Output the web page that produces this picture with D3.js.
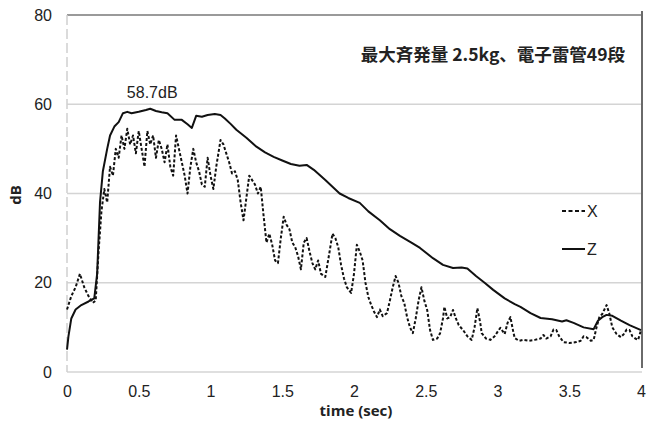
<!DOCTYPE html>
<html lang="ja">
<head>
<meta charset="UTF-8">
<script src="https://d3js.org/d3.v7.min.js"></script>
<style>
  body { margin: 0; background: #fff; }
  svg text { font-family: "Liberation Sans", Arial, sans-serif; fill: #222; }
</style>
</head>
<body>
<svg id="chart" width="654" height="422"></svg>
<script>
// ---- data ----
var xTicks = [0, 0.5, 1, 1.5, 2, 2.5, 3, 3.5, 4];
var xTickLabels = ["0", "0.5", "1", "1.5", "2", "2.5", "3", "3.5", "4"];
var yTicks = [0, 20, 40, 60, 80];
var seriesNames = ["X", "Z"];
var titleText = "最大斉発量  2.5kg、電子雷管49段";
var peakLabel = "58.7dB";
var peakAt = [0.58, 58.7];

// X component (dashed)
var timeX = [0,0.03,0.06,0.09,0.12,0.15,0.18,0.2,0.22,0.24,0.26,0.28,0.3,0.32,0.34,0.36,0.38,0.4,0.42,0.44,0.46,0.48,0.5,0.52,0.54,0.56,0.58,0.6,0.62,0.64,0.66,0.68,0.7,0.72,0.74,0.76,0.78,0.8,0.82,0.84,0.86,0.88,0.9,0.92,0.94,0.96,0.98,1,1.02,1.04,1.06,1.07,1.09,1.11,1.13,1.15,1.17,1.19,1.21,1.23,1.25,1.27,1.29,1.31,1.33,1.35,1.37,1.39,1.41,1.43,1.45,1.47,1.49,1.51,1.53,1.55,1.57,1.59,1.61,1.63,1.65,1.67,1.69,1.71,1.73,1.75,1.77,1.8,1.83,1.85,1.87,1.89,1.91,1.93,1.95,1.98,2,2.02,2.04,2.06,2.08,2.1,2.12,2.14,2.16,2.18,2.2,2.23,2.25,2.27,2.29,2.31,2.33,2.35,2.37,2.39,2.41,2.43,2.45,2.47,2.49,2.51,2.53,2.55,2.58,2.6,2.62,2.63,2.65,2.67,2.69,2.71,2.73,2.76,2.79,2.82,2.84,2.86,2.88,2.89,2.92,2.95,2.98,3,3.02,3.05,3.07,3.09,3.11,3.12,3.15,3.18,3.22,3.26,3.3,3.32,3.34,3.37,3.39,3.41,3.43,3.46,3.5,3.55,3.58,3.6,3.62,3.65,3.67,3.69,3.71,3.73,3.76,3.78,3.8,3.83,3.86,3.88,3.9,3.92,3.94,3.96,3.98,4];
var dbX = [14,17,19,22,19,17,15.5,16,27,36,41,38,46,44,50,48,53,50,54.5,51,53,49,54,50,46,54,51,53,48,52,50,47,51,46,44,53,50,47,44,40,46,50,47,45,42,41.5,48,44,41,46,50,52,51,49,47,44.5,45,43,38,34,39,44,43,42,40,41.5,35,29,31,28.5,25,24.4,30,34.8,33,32,29,28,26,23,29,30,27,24.4,23,25,22,21.3,27,31,30,28,24,21,19,17.7,22,28.5,27,25,20,16.8,15,13.5,12.3,14,12.5,13.2,16,19,21.5,20,17,15.5,12.3,10,8.7,12,16,19,16,13.9,9.4,7.2,7.5,8.7,12,14.6,12,12.3,13.9,12,10.5,9.4,8,7.2,10,14.3,11,8.7,7.5,7.2,8,9,9.9,8.5,11,12.3,9,7.6,7,7.2,7,7.2,7.5,8.3,7.5,8,9.5,9.4,8,6.7,6.5,6.7,7,8,7.8,7,7.2,10,12.3,13,15,13,10,8.5,7.8,8.5,9.5,9.4,8,7.5,7.2,9.4];

// Z component (solid)
var timeZ = [0,0.01,0.03,0.06,0.1,0.15,0.19,0.21,0.23,0.25,0.28,0.3,0.33,0.36,0.39,0.42,0.45,0.5,0.55,0.58,0.62,0.66,0.7,0.75,0.8,0.84,0.87,0.9,0.94,0.98,1.03,1.07,1.1,1.14,1.18,1.25,1.32,1.38,1.44,1.5,1.56,1.62,1.67,1.72,1.8,1.9,1.96,2.04,2.1,2.18,2.25,2.32,2.4,2.46,2.55,2.62,2.69,2.75,2.79,2.85,2.91,2.97,3.05,3.12,3.16,3.23,3.3,3.38,3.45,3.48,3.53,3.6,3.67,3.7,3.73,3.76,3.8,3.86,3.92,4];
var dbZ = [5,8,12,14,15,15.8,16.5,22,38,45,50,53,55,56,58,58.3,58,58.3,58.7,59,58.5,58.2,58,56.5,56.5,55.5,54.7,57.4,57.2,57.6,57.8,57.6,56.8,55.6,54.3,52.5,50.5,49.2,48.2,47.4,46.6,46.2,46.4,45.3,43,40,39,37.9,36,34,32,30.5,29,27.8,25.5,24,23.3,23.4,23.2,21.5,20,18.4,16.5,15.2,14.6,13.2,12.1,11.8,11.3,11.6,11,10,9.6,11.5,12.3,12.8,12.6,11.5,10.5,9.4];

// ---- layout ----
var svg = d3.select("#chart");
var plotL = 67, plotR = 642, plotT = 15, plotB = 372;

var x = d3.scaleLinear().domain([0, 4]).range([plotL, plotR - 1]);
var y = d3.scaleLinear().domain([0, 80]).range([plotB, plotT]);

// gridlines
svg.append("g").selectAll("line").data(yTicks).enter().append("line")
  .attr("x1", plotL).attr("x2", plotR)
  .attr("y1", function (d) { return y(d); })
  .attr("y2", function (d) { return y(d); })
  .attr("stroke", function (d) { return d === 80 ? "#9a9a9a" : "#d4d4d4"; })
  .attr("stroke-width", function (d) { return d === 80 ? 2 : 1.5; });

// left edge, right border
svg.append("line").attr("x1", plotL).attr("x2", plotL).attr("y1", plotT).attr("y2", plotB)
  .attr("stroke", "#d0d0d0").attr("stroke-width", 1.5).attr("stroke-dasharray", "10,4");
svg.append("line").attr("x1", plotR).attr("x2", plotR).attr("y1", plotT - 4).attr("y2", plotB - 4)
  .attr("stroke", "#6a6a6a").attr("stroke-width", 2);

// axes
var yAxis = d3.axisLeft(y).tickValues(yTicks).tickSize(0).tickPadding(15);
var gy = svg.append("g").attr("transform", "translate(" + plotL + ",0)").call(yAxis);
gy.select(".domain").remove();
gy.selectAll("text").style("font-size", "16px").attr("fill", "#222");

var xAxis = d3.axisBottom(x).tickValues(xTicks)
  .tickFormat(function (d, i) { return xTickLabels[i]; }).tickSize(0).tickPadding(14);
var gx = svg.append("g").attr("transform", "translate(0," + plotB + ")").call(xAxis);
gx.select(".domain").remove();
gx.selectAll("text").style("font-size", "16px").attr("fill", "#222");

// axis titles
svg.append("text").attr("transform", "translate(21,195) rotate(-90)")
  .attr("text-anchor", "middle").style("font-size", "15px").style("font-weight", "bold")
  .style("font-family", "'Open Sans', sans-serif").text("dB");
svg.append("text").attr("x", 356).attr("y", 416)
  .attr("text-anchor", "middle").style("font-size", "15px").style("font-weight", "bold")
  .style("font-family", "'Open Sans', sans-serif").text("time (sec)");

// series lines
function pts(ts, vs) { return ts.map(function (t, i) { return [t, vs[i]]; }); }
var line = d3.line().x(function (d) { return x(d[0]); }).y(function (d) { return y(d[1]); });

svg.append("path").datum(pts(timeX, dbX)).attr("d", line)
  .attr("fill", "none").attr("stroke", "#111").attr("stroke-width", 2)
  .attr("stroke-dasharray", "3,2").attr("stroke-linejoin", "round");
svg.append("path").datum(pts(timeZ, dbZ)).attr("d", line)
  .attr("fill", "none").attr("stroke", "#111").attr("stroke-width", 2)
  .attr("stroke-linejoin", "round");

// peak label
svg.append("text").attr("x", x(peakAt[0]) + 2).attr("y", y(peakAt[1]) - 12)
  .attr("text-anchor", "middle").style("font-size", "16px").text(peakLabel);

// title
svg.append("text").attr("x", 625).attr("y", 61).attr("text-anchor", "end")
  .style("font-family", "'Noto Sans CJK JP', sans-serif").style("font-size", "17.5px")
  .style("font-weight", "bold").attr("fill", "#111").text(titleText);

// legend
var legend = svg.append("g").attr("transform", "translate(562,211)");
seriesNames.forEach(function (name, i) {
  var g = legend.append("g").attr("transform", "translate(0," + (i * 38) + ")");
  g.append("line").attr("x1", 0).attr("x2", 23).attr("y1", 0).attr("y2", 0)
    .attr("stroke", "#111").attr("stroke-width", 2)
    .attr("stroke-dasharray", i === 0 ? "4,2.5" : null);
  g.append("text").attr("x", 25).attr("y", 6).style("font-size", "16px").text(name);
});
</script>
</body>
</html>
